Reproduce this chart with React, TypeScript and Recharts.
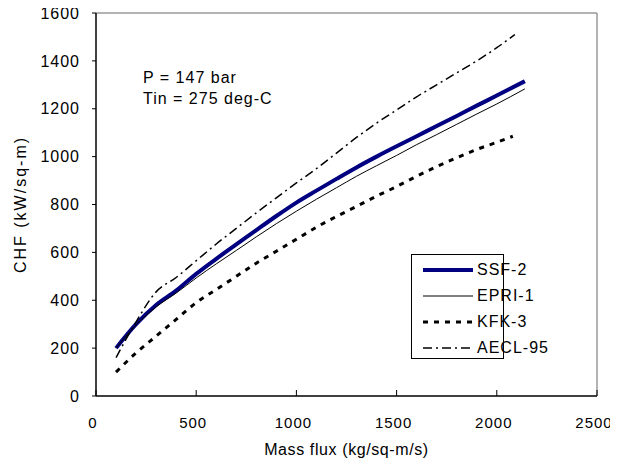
import React from "react";
import {
  LineChart,
  Line,
  XAxis,
  YAxis,
  ReferenceLine,
  Customized,
} from "recharts";

// mass flux (kg/sq-m/s) and CHF (kW/sq-m)
const massSSF = [100, 200, 300, 400, 500, 600, 700, 800, 900, 1000, 1100, 1200, 1300, 1400, 1500, 1600, 1700, 1800, 1900, 2000, 2140];
const chfSSF = [200, 300, 380, 440, 510, 573, 633, 693, 752, 808, 858, 907, 955, 1000, 1043, 1085, 1128, 1170, 1213, 1255, 1315];

const massEPRI = [100, 200, 300, 400, 500, 600, 700, 800, 900, 1000, 1100, 1200, 1300, 1400, 1500, 1600, 1700, 1800, 1900, 2000, 2140];
const chfEPRI = [200, 297, 372, 430, 493, 552, 608, 665, 720, 772, 822, 870, 918, 962, 1005, 1050, 1092, 1135, 1178, 1220, 1283];

const massKFK = [100, 200, 300, 400, 500, 600, 700, 800, 900, 1000, 1100, 1200, 1300, 1400, 1500, 1600, 1700, 1800, 1900, 2000, 2080];
const chfKFK = [100, 180, 250, 320, 390, 445, 500, 555, 605, 655, 705, 750, 792, 835, 875, 918, 958, 995, 1030, 1060, 1085];

const massAECL = [100, 200, 300, 400, 500, 600, 700, 800, 900, 1000, 1100, 1200, 1300, 1400, 1500, 1600, 1700, 1800, 1900, 2000, 2090];
const chfAECL = [160, 310, 435, 495, 565, 635, 700, 765, 828, 890, 950, 1015, 1080, 1140, 1195, 1250, 1300, 1350, 1400, 1455, 1510];

const xTicks = [0, 500, 1000, 1500, 2000, 2500];
const yTicks = [0, 200, 400, 600, 800, 1000, 1200, 1400, 1600];

const toRows = (xs: number[], ys: number[]) => xs.map((m, i) => ({ mass: m, chf: ys[i] }));

const FONT = '"Liberation Sans", Arial, sans-serif';

const series = [
  { name: "SSF-2", data: toRows(massSSF, chfSSF), stroke: "#000080", width: 4, dash: undefined },
  { name: "EPRI-1", data: toRows(massEPRI, chfEPRI), stroke: "#000000", width: 1, dash: undefined },
  { name: "KFK-3", data: toRows(massKFK, chfKFK), stroke: "#000000", width: 3, dash: "5 6" },
  { name: "AECL-95", data: toRows(massAECL, chfAECL), stroke: "#000000", width: 1.5, dash: "9 4 2 4" },
];

const LegendBox = () => (
  <div
    style={{
      position: "absolute",
      left: 403,
      top: 246,
      border: "1px solid #000",
      background: "#fff",
      width: 93,
      height: 105,
      boxSizing: "border-box",
      paddingTop: 2,
      fontFamily: FONT,
      fontSize: 16,
      letterSpacing: 1,
      whiteSpace: "nowrap",
    }}
  >
    {series.map((s) => (
      <div key={s.name} style={{ display: "flex", alignItems: "center", height: 26 }}>
        <svg width={66} height={26} style={{ flex: "none" }}>
          <line x1={11} x2={61} y1={13} y2={13} stroke={s.stroke} strokeWidth={s.width} strokeDasharray={s.dash} />
        </svg>
        <span style={{ color: "#000", marginLeft: -1 }}>{s.name}</span>
      </div>
    ))}
  </div>
);

const Notes = () => (
  <g fontFamily={FONT} fontSize={16} letterSpacing={1} fill="#000">
    <text x={135} y={75}>P = 147 bar</text>
    <text x={135} y={96}>Tin = 275 deg-C</text>
  </g>
);

export default function App() {
  return (
    <div style={{ position: "relative", width: 602, height: 451 }}>
      <style>{"html,body{overflow:hidden}.recharts-surface{overflow:visible}"}</style>
      <LineChart
        width={602}
        height={451}
        margin={{ top: 5, right: 13, left: 0, bottom: 0 }}
        style={{ fontFamily: FONT }}
      >
        <XAxis
          type="number"
          dataKey="mass"
          domain={[0, 2500]}
          ticks={xTicks}
          allowDataOverflow
          interval={0}
          height={63}
          tickSize={-6}
          tickMargin={27}
          axisLine={{ stroke: "#000", strokeWidth: 1.5 }}
          tickLine={{ stroke: "#000" }}
          tick={{ fill: "#000", fontSize: 15, letterSpacing: 1, dx: -3 }}
          label={{ value: "Mass flux (kg/sq-m/s)", position: "insideBottom", offset: 4, fill: "#000", fontSize: 16, letterSpacing: 0.6 }}
        />
        <YAxis
          type="number"
          dataKey="chf"
          domain={[0, 1600]}
          ticks={yTicks}
          interval={0}
          width={88}
          tickSize={4}
          tickMargin={12}
          axisLine={{ stroke: "#000", strokeWidth: 1.5 }}
          tickLine={{ stroke: "#000" }}
          tick={{ fill: "#000", fontSize: 16, letterSpacing: 1 }}
          label={{ value: "CHF (kW/sq-m)", angle: -90, position: "insideLeft", offset: 12, fill: "#000", fontSize: 16, letterSpacing: 2, style: { textAnchor: "middle" } }}
        />
        <ReferenceLine y={1600} stroke="#9a9a9a" strokeWidth={1.5} />
        <ReferenceLine x={2500} stroke="#9a9a9a" strokeWidth={1.5} />
        {series.map((s) => (
          <Line
            key={s.name}
            data={s.data}
            dataKey="chf"
            name={s.name}
            type="monotone"
            stroke={s.stroke}
            strokeWidth={s.width}
            strokeDasharray={s.dash}
            dot={false}
            activeDot={false}
            isAnimationActive={false}
          />
        ))}
        <Customized component={Notes} />
      </LineChart>
      <LegendBox />
    </div>
  );
}
